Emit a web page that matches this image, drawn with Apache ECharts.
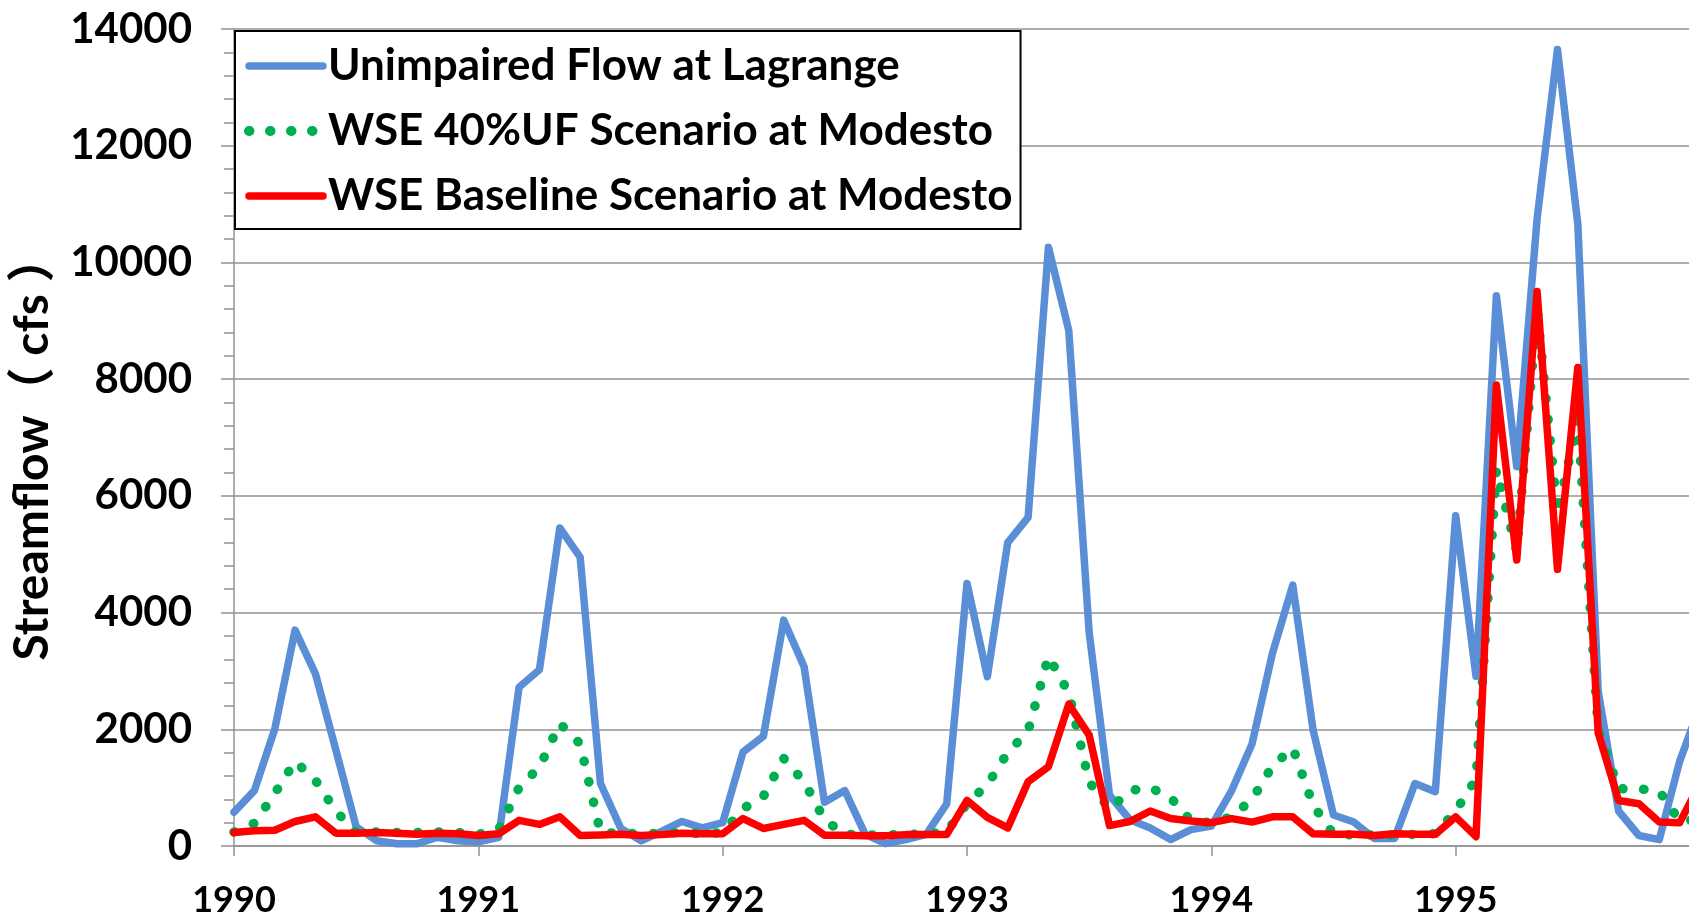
<!DOCTYPE html>
<html>
<head>
<meta charset="utf-8">
<title>Streamflow</title>
<script src="https://cdn.jsdelivr.net/npm/echarts@6/dist/echarts.min.js"></script>
<style>
  html, body { margin: 0; padding: 0; background: #fff; }
  #main { width: 1689px; height: 918px; }
</style>
</head>
<body>
<div id="main"></div>
<script>
  // monthly values, Jan 1990 .. Jan 1996 (cfs)
  const years = ['1990', '1991', '1992', '1993', '1994', '1995', '1996']
  const yearLabels = ['1990', '1991', '1992', '1993', '1994', '1995']

  const unimpaired = [
    580, 950, 2000, 3700, 2950, 1650, 330, 90, 40, 40, 150, 90,
    70, 150, 2720, 3020, 5450, 4950, 1070, 300, 90, 250, 420, 310,
    400, 1610, 1880, 3870, 3070, 750, 950, 200, 40, 110, 200, 720,
    4500, 2900, 5200, 5630, 10260, 8830, 3660, 870, 450, 310, 110, 280,
    340, 950, 1750, 3300, 4470, 1980, 530, 410, 130, 130, 1070, 930,
    5660, 2910, 9430, 6500, 10750, 13650, 10650, 2650, 600, 180, 110, 1450,
    2400
  ]
  const wse40 = [
    240, 390, 900, 1450, 1125, 600, 230, 240, 230, 230, 240, 230,
    200, 280, 1000, 1350, 2100, 1750, 230, 220, 210, 220, 230, 210,
    230, 640, 850, 1500, 1100, 450, 200, 190, 190, 200, 200, 240,
    730, 1050, 1600, 1970, 3250, 2620, 1100, 630, 950, 1000, 830, 430,
    400, 500, 800, 1370, 1680, 700, 200, 190, 190, 190, 200, 210,
    600, 1150, 6450, 5050, 9200, 5700, 7300, 2000, 980, 980, 940, 430,
    450
  ]
  const baseline = [
    230, 260, 270, 420, 500, 220, 220, 230, 220, 200, 220, 210,
    180, 210, 440, 370, 500, 180, 190, 200, 180, 195, 220, 210,
    210, 470, 300, 370, 440, 185, 185, 175, 175, 195, 195, 195,
    780, 490, 310, 1100, 1360, 2430, 1900, 350, 420, 600, 470, 430,
    400, 470, 410, 500, 500, 210, 200, 200, 180, 210, 200, 200,
    500, 160, 7900, 4900, 9500, 4740, 8200, 1940, 780, 725, 410, 400,
    1070
  ]

  const months = []
  for (let i = 0; i < unimpaired.length; i++) {
    months.push(years[Math.floor(i / 12)] + '-' + String(i % 12 + 1).padStart(2, '0'))
  }

  const font = 'Lato, "Noto Sans CJK SC", sans-serif'
  const gray = '#939393'

  const chart = echarts.init(document.getElementById('main'), null, { renderer: 'canvas' })
  chart.setOption({
    animation: false,
    backgroundColor: '#fff',
    grid: { left: 234, right: -11, top: 29, bottom: 72, outerBoundsMode: 'none', containLabel: false },
    legend: {
      orient: 'vertical',
      left: 235,
      top: 31,
      padding: [9, 8, 7, 9],
      itemWidth: 74,
      itemHeight: 14,
      itemGap: 13,
      backgroundColor: '#fff',
      borderColor: '#000',
      borderWidth: 2,
      borderRadius: 0,
      itemStyle: { opacity: 0 },
      textStyle: { fontFamily: font, fontWeight: 'bold', fontSize: 44, lineHeight: 52, color: '#000' },
      data: [
        { name: 'Unimpaired Flow at Lagrange', lineStyle: { width: 7.5 } },
        { name: 'WSE 40%UF Scenario at Modesto', lineStyle: { width: 10 } },
        { name: 'WSE Baseline Scenario at Modesto', lineStyle: { width: 7.5 } }
      ]
    },
    xAxis: {
      type: 'category',
      data: months,
      boundaryGap: false,
      axisLine: { lineStyle: { color: gray, width: 1.5 } },
      axisTick: {
        show: true,
        length: 10,
        interval: function (idx) { return idx % 12 === 0 },
        lineStyle: { color: gray, width: 1.5 }
      },
      axisLabel: {
        interval: function (idx) { return idx % 12 === 0 && idx / 12 < yearLabels.length },
        formatter: function (v, idx) { return yearLabels[idx / 12] || '' },
        margin: 36,
        color: '#000',
        fontFamily: font,
        fontWeight: 'bold',
        fontSize: 36
      },
      splitLine: { show: false }
    },
    yAxis: {
      type: 'value',
      min: 0,
      max: 14000,
      interval: 2000,
      name: 'Streamflow（ cfs ）',
      nameLocation: 'middle',
      nameRotate: 90,
      nameGap: 177,
      nameTextStyle: { fontFamily: font, fontWeight: 'bold', fontSize: 48, color: '#000', padding: [0, 20, 0, 0] },
      axisLine: { show: true, lineStyle: { color: gray, width: 1.5 } },
      axisTick: { show: true, length: 13, lineStyle: { color: gray, width: 1.5 } },
      minorTick: { show: true, splitNumber: 5, length: 10, lineStyle: { color: gray, width: 1.5 } },
      axisLabel: {
        margin: 42, color: '#000', fontFamily: font, fontWeight: 'bold', fontSize: 42,
        formatter: function (v) { return String(v) }
      },
      splitLine: { show: true, lineStyle: { color: gray, width: 1.5 } }
    },
    series: [
      {
        name: 'Unimpaired Flow at Lagrange',
        type: 'line',
        data: unimpaired,
        symbol: 'none',
        color: '#5A8ED6',
        lineStyle: { color: '#5A8ED6', width: 7.5, join: 'round', cap: 'round' },
        z: 2
      },
      {
        name: 'WSE 40%UF Scenario at Modesto',
        type: 'line',
        data: wse40,
        symbol: 'none',
        color: '#00B050',
        lineStyle: { color: '#00B050', width: 9.5, type: [0.5, 20.5], cap: 'round', join: 'round' },
        z: 3
      },
      {
        name: 'WSE Baseline Scenario at Modesto',
        type: 'line',
        data: baseline,
        symbol: 'none',
        color: '#FF0000',
        lineStyle: { color: '#FF0000', width: 7.5, join: 'round', cap: 'round' },
        z: 4
      }
    ]
  })
</script>
</body>
</html>
